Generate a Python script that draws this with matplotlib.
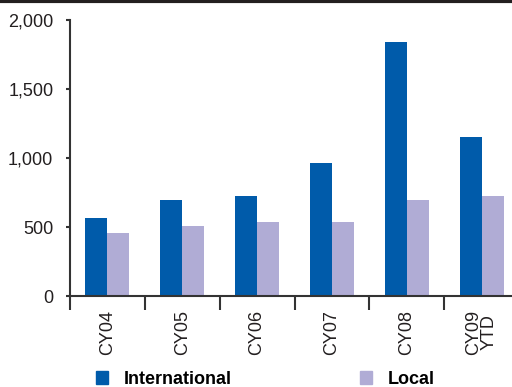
import numpy as np
import matplotlib.pyplot as plt
from matplotlib.patches import Patch

# Annual volumes, international vs local
years = ['CY04', 'CY05', 'CY06', 'CY07', 'CY08', 'CY09\nYTD']
international = [565, 696, 725, 964, 1841, 1152]
local = [456, 507, 536, 536, 696, 725]

blue = '#005BAA'
lilac = '#B0ACD5'
ink = '#231F20'

plt.rcParams['font.family'] = ['Liberation Sans', 'DejaVu Sans']

fig = plt.figure(figsize=(5.12, 3.87), dpi=100)
ax = fig.add_axes([0.1367, 0.2351, 0.877, 0.7132])

x = np.arange(len(years))
w = 0.295
ax.bar(x - w / 2, international, w, color=blue)
ax.bar(x + w / 2, local, w, color=lilac)

ax.set_xlim(-0.5, len(years) - 0.5)
ax.set_ylim(0, 2000)
ax.set_yticks([0, 500, 1000, 1500, 2000])
ax.set_yticklabels(['0', '500', '1,000', '1,500', '2,000'])
ax.set_xticks(x - 0.5, minor=False)
ax.set_xticklabels([])
ax.set_xticks(x, minor=True)
ax.set_xticklabels(years, minor=True, rotation=90, fontsize=13, color=ink,
                   linespacing=0.85)
ax.tick_params(axis='x', which='minor', length=0, pad=10)
ax.tick_params(axis='x', which='major', direction='out', length=10,
               width=1.5, color='#333333')
ax.tick_params(axis='y', direction='out', length=3, width=1.5,
               color='#333333', labelsize=13, labelcolor=ink, pad=9)

for s in ['top', 'right']:
    ax.spines[s].set_visible(False)
for s in ['left', 'bottom']:
    ax.spines[s].set_color('#333333')
    ax.spines[s].set_linewidth(1.5)

# dark rule along the top edge
fig.add_artist(plt.Line2D([0, 1], [0.997, 0.997], color=ink, lw=3,
                          transform=fig.transFigure))

handles = [Patch(color=blue, label='International'),
           Patch(color=lilac, label='Local')]
fig.legend(handles=handles, loc='lower left', bbox_to_anchor=(0.155, -0.044),
           ncol=2, frameon=False, handlelength=0.7, handleheight=0.7,
           handletextpad=0.85, columnspacing=7.1,
           prop={'weight': 'bold', 'size': 13})

fig.savefig('out.png', dpi=100)
